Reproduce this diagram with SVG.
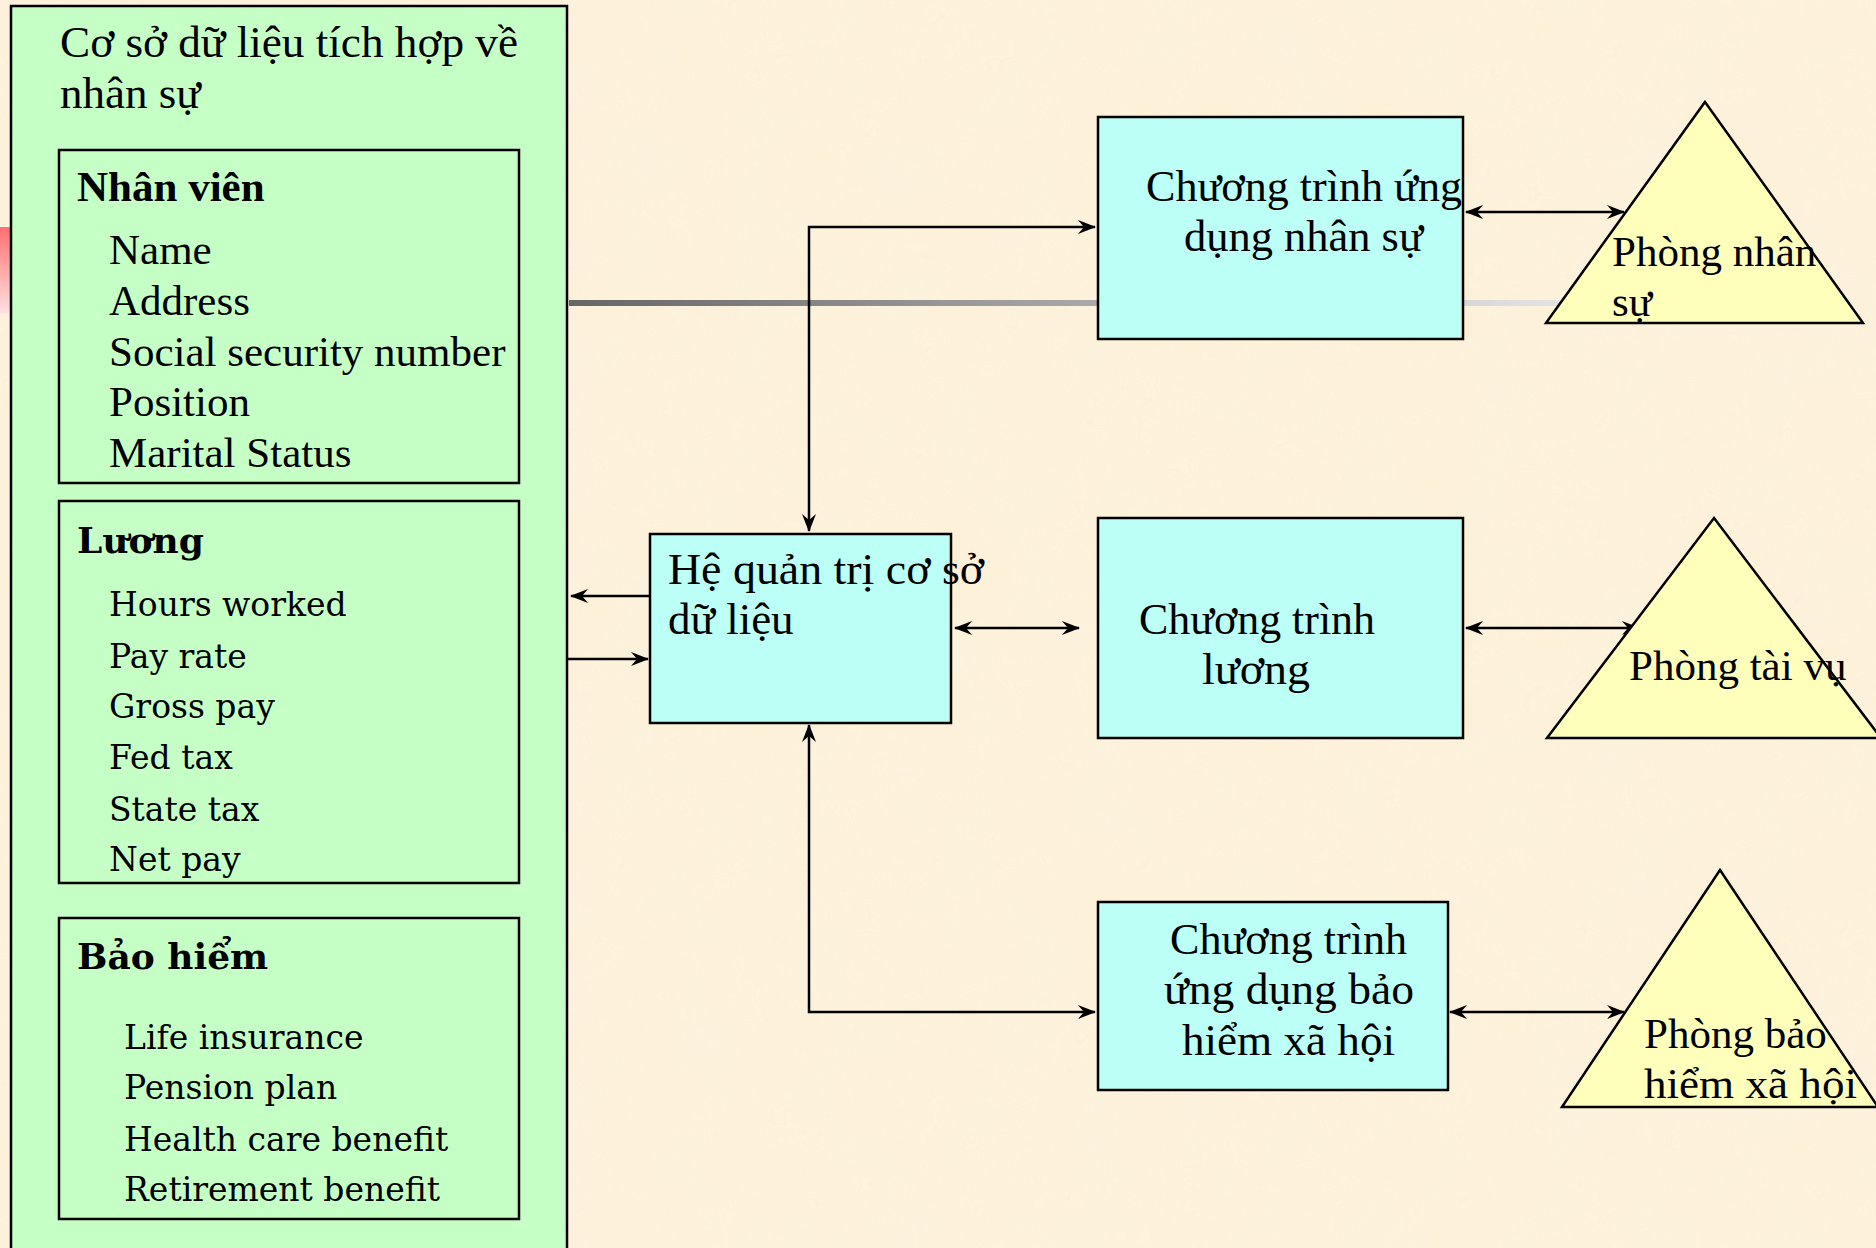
<svg xmlns="http://www.w3.org/2000/svg" width="1876" height="1248" viewBox="0 0 1876 1248">
<defs>
<style>
.t{font-family:"Liberation Serif","Times New Roman",serif;font-size:43px;fill:#000}
.tl{font-family:"Liberation Serif","Times New Roman",serif;font-size:45px;fill:#000}
.tb{font-family:"Liberation Serif","Times New Roman",serif;font-size:43px;font-weight:bold;fill:#000}
.d{font-family:"DejaVu Serif",serif;font-size:33px;fill:#000}
.db{font-family:"DejaVu Serif",serif;font-size:36px;font-weight:bold;fill:#000}
.box{stroke:#000;stroke-width:2.5}
.green{fill:#c6ffc6}
.cyan{fill:#bcfff6}
.yellow{fill:#ffffbc}
.conn{fill:none;stroke:#000;stroke-width:2.5}
</style>
<marker id="ah" viewBox="0 0 18 14" markerWidth="18" markerHeight="14" refX="17" refY="7" orient="auto-start-reverse" markerUnits="userSpaceOnUse">
<path d="M0,0 L18,7 L0,14 L6,7 z" fill="#000"/>
</marker>
<linearGradient id="gray" x1="569" y1="0" x2="1567" y2="0" gradientUnits="userSpaceOnUse">
<stop offset="0" stop-color="#666"/>
<stop offset="0.53" stop-color="#aaa"/>
<stop offset="1" stop-color="#e4e4e4"/>
</linearGradient>
<linearGradient id="red" x1="0" y1="0" x2="0" y2="1">
<stop offset="0" stop-color="#ff7070"/>
<stop offset="1" stop-color="#ffe0e0"/>
</linearGradient>
<filter id="tex" x="0" y="0" width="1" height="1">
<feTurbulence type="fractalNoise" baseFrequency="0.015" numOctaves="3" seed="4"/>
<feColorMatrix type="matrix" values="0 0 0 0 0.97  0 0 0 0 0.9  0 0 0 0 0.74  0 0 0 0.9 -0.25"/>
</filter>
</defs>
<rect width="1876" height="1248" fill="#fdf1da"/>
<rect width="1876" height="1248" filter="url(#tex)" opacity="0.8"/>
<rect x="0" y="227" width="11" height="86" fill="url(#red)"/>
<rect x="569" y="300" width="998" height="6" fill="url(#gray)"/>

<g id="database">
<rect class="box green" x="11" y="6" width="556" height="1260"/>
<text class="tl"><tspan x="60" y="57" textLength="458" lengthAdjust="spacingAndGlyphs">Cơ sở dữ liệu tích hợp về</tspan><tspan x="60" y="108">nhân sự</tspan></text>
</g>
<g id="nhan-vien">
<rect class="box green" x="59" y="150" width="460" height="333"/>
<text class="tb" x="77" y="201">Nhân viên</text>
<text class="t"><tspan x="109" y="264">Name</tspan><tspan x="109" y="315">Address</tspan><tspan x="109" y="366">Social security number</tspan><tspan x="109" y="416">Position</tspan><tspan x="109" y="467">Marital Status</tspan></text>
</g>
<g id="luong">
<rect class="box green" x="59" y="501" width="460" height="382"/>
<text class="db" x="77" y="553">Lương</text>
<text class="d"><tspan x="109" y="616">Hours worked</tspan><tspan x="109" y="668">Pay rate</tspan><tspan x="109" y="718">Gross pay</tspan><tspan x="109" y="769">Fed tax</tspan><tspan x="109" y="821">State tax</tspan><tspan x="109" y="871">Net pay</tspan></text>
</g>
<g id="bao-hiem">
<rect class="box green" x="59" y="918" width="460" height="301"/>
<text class="db" x="77" y="969">Bảo hiểm</text>
<text class="d"><tspan x="124" y="1049">Life insurance</tspan><tspan x="124" y="1099">Pension plan</tspan><tspan x="124" y="1151">Health care benefit</tspan><tspan x="124" y="1201">Retirement benefit</tspan></text>
</g>

<g id="connectors">
<line class="conn" x1="650" y1="596" x2="571" y2="596" marker-end="url(#ah)"/>
<line class="conn" x1="568" y1="659" x2="648" y2="659" marker-end="url(#ah)"/>
<polyline class="conn" points="1095,227 809,227 809,531" marker-start="url(#ah)" marker-end="url(#ah)"/>
<polyline class="conn" points="1095,1012 809,1012 809,725" marker-start="url(#ah)" marker-end="url(#ah)"/>
<line class="conn" x1="955" y1="628" x2="1079" y2="628" marker-start="url(#ah)" marker-end="url(#ah)"/>
<line class="conn" x1="1466" y1="212" x2="1624" y2="212" marker-start="url(#ah)" marker-end="url(#ah)"/>
<line class="conn" x1="1466" y1="628" x2="1639" y2="628" marker-start="url(#ah)" marker-end="url(#ah)"/>
<line class="conn" x1="1450" y1="1012" x2="1624" y2="1012" marker-start="url(#ah)" marker-end="url(#ah)"/>
</g>

<g id="dbms">
<rect class="box cyan" x="650" y="534" width="301" height="189"/>
<text class="tl"><tspan x="668" y="584" textLength="316" lengthAdjust="spacingAndGlyphs">Hệ quản trị cơ sở</tspan><tspan x="668" y="634">dữ liệu</tspan></text>
</g>
<g id="app-nhan-su">
<rect class="box cyan" x="1098" y="117" width="365" height="222"/>
<text class="tl"><tspan x="1146" y="201" textLength="316" lengthAdjust="spacingAndGlyphs">Chương trình ứng</tspan><tspan x="1184" y="251" textLength="239" lengthAdjust="spacingAndGlyphs">dụng nhân sự</tspan></text>
</g>
<g id="app-luong">
<rect class="box cyan" x="1098" y="518" width="365" height="220"/>
<text class="tl"><tspan x="1139" y="634" textLength="236" lengthAdjust="spacingAndGlyphs">Chương trình</tspan><tspan x="1202" y="684" textLength="108" lengthAdjust="spacingAndGlyphs">lương</tspan></text>
</g>
<g id="app-bao-hiem">
<rect class="box cyan" x="1098" y="902" width="350" height="188"/>
<text class="tl"><tspan x="1170" y="954" textLength="237" lengthAdjust="spacingAndGlyphs">Chương trình</tspan><tspan x="1164" y="1004" textLength="250" lengthAdjust="spacingAndGlyphs">ứng dụng bảo</tspan><tspan x="1182" y="1055" textLength="213" lengthAdjust="spacingAndGlyphs">hiểm xã hội</tspan></text>
</g>
<g id="phong-nhan-su">
<polygon class="box yellow" points="1705,102 1863,323 1546,323"/>
<text class="t"><tspan x="1612" y="266">Phòng nhân</tspan><tspan x="1612" y="316">sự</tspan></text>
</g>
<g id="phong-tai-vu">
<polygon class="box yellow" points="1714,518 1881,738 1547,738"/>
<text class="t" x="1629" y="680">Phòng tài vụ</text>
</g>
<g id="phong-bao-hiem">
<polygon class="box yellow" points="1720,870 1878,1107 1562,1107"/>
<text class="t"><tspan x="1644" y="1048">Phòng bảo</tspan><tspan x="1644" y="1098" textLength="213" lengthAdjust="spacingAndGlyphs">hiểm xã hội</tspan></text>
</g>
</svg>
